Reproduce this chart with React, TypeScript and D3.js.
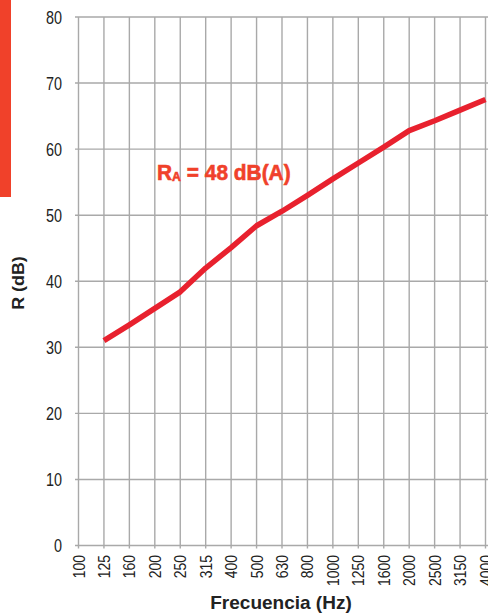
import React, { useEffect, useRef } from 'react';
import * as d3 from 'd3';

const frequencies = ['100', '125', '160', '200', '250', '315', '400', '500', '630', '800', '1000', '1250', '1600', '2000', '2500', '3150', '4000'];
const curveFreqs = ['125', '160', '200', '250', '315', '400', '500', '630', '800', '1000', '1250', '1600', '2000', '2500', '3150', '4000'];
const curveValues = [31.0, 33.4, 35.9, 38.4, 42.0, 45.1, 48.4, 50.6, 53.0, 55.5, 57.9, 60.3, 62.8, 64.3, 65.9, 67.5];
const yTicks = [0, 10, 20, 30, 40, 50, 60, 70, 80];

const W = 488;
const H = 614;
// narrow look: Arial-like font squeezed horizontally
const FONT = '"Liberation Sans", Arial, sans-serif';
const GRID = '#a9a9a9';

export default function App() {
  const svgRef = useRef<SVGSVGElement>(null);

  useEffect(() => {
    if (!svgRef.current) return;
    const svg = d3.select(svgRef.current);
    svg.selectAll('*').remove();

    const x = d3.scalePoint<string>().domain(frequencies).range([78.5, 485.5]);
    const y = d3.scaleLinear().domain([0, 80]).range([545.5, 17]);

    // red side bar
    svg.append('rect').attr('x', 0).attr('y', 0).attr('width', 11).attr('height', 197).attr('fill', '#f0412a');

    const g = svg.append('g');

    // horizontal grid
    g.selectAll('.hgrid')
      .data(yTicks)
      .join('line')
      .attr('x1', 75)
      .attr('x2', W)
      .attr('y1', d => y(d))
      .attr('y2', d => y(d))
      .attr('stroke', GRID)
      .attr('stroke-width', 1.4);

    // vertical grid
    g.selectAll('.vgrid')
      .data(frequencies)
      .join('line')
      .attr('x1', d => x(d)!)
      .attr('x2', d => x(d)!)
      .attr('y1', y(80))
      .attr('y2', y(0) + 3)
      .attr('stroke', GRID)
      .attr('stroke-width', 1.4);

    // y tick labels
    g.selectAll('.ylab')
      .data(yTicks)
      .join('text')
      .attr('transform', d => `translate(62,${y(d) + 6.5}) scale(0.8,1)`)
      .attr('text-anchor', 'end')
      .style('font-family', FONT)
      .style('font-size', '18px')
      .style('fill', '#222')
      .text(d => d);

    // x tick labels (rotated)
    g.selectAll('.xlab')
      .data(frequencies)
      .join('text')
      .attr('transform', d => `translate(${x(d)! + 6},555) rotate(-90) scale(0.82,1)`)
      .attr('text-anchor', 'end')
      .style('font-family', FONT)
      .style('font-size', '17px')
      .style('fill', '#222')
      .text(d => d);

    // axis titles
    svg.append('text')
      .attr('transform', 'translate(281,609)')
      .attr('text-anchor', 'middle')
      .style('font-family', FONT)
      .style('font-weight', 'bold')
      .style('font-size', '19px')
      .style('fill', '#222')
      .text('Frecuencia (Hz)');

    svg.append('text')
      .attr('transform', 'translate(24,283) rotate(-90) scale(1.05,1)')
      .attr('text-anchor', 'middle')
      .style('font-family', FONT)
      .style('font-weight', 'bold')
      .style('font-size', '17px')
      .style('fill', '#222')
      .text('R (dB)');

    // curve
    const pts = curveFreqs.map((f, i) => [x(f)!, y(curveValues[i])] as [number, number]);
    svg.append('path')
      .attr('d', d3.line()(pts))
      .attr('fill', 'none')
      .attr('stroke', '#e8212e')
      .attr('stroke-width', 5.5)
      .attr('stroke-linejoin', 'round');

    // annotation
    const ann = svg.append('text')
      .attr('transform', 'translate(157,180) scale(0.95,1)')
      .style('font-family', FONT)
      .style('font-weight', 'bold')
      .style('font-size', '22px')
      .style('fill', '#f0412a')
      .style('stroke', '#f0412a')
      .style('stroke-width', 0.6);
    ann.append('tspan').text('R');
    ann.append('tspan').style('font-size', '13px').attr('dy', 1).text('A');
    ann.append('tspan').attr('dy', -1).text(' = 48 dB(A)');
  }, []);

  return (
    <div style={{ position: 'fixed', left: 0, top: 0, width: W, height: H, background: '#fff' }}>
      <svg ref={svgRef} width={W} height={H} />
    </div>
  );
}
